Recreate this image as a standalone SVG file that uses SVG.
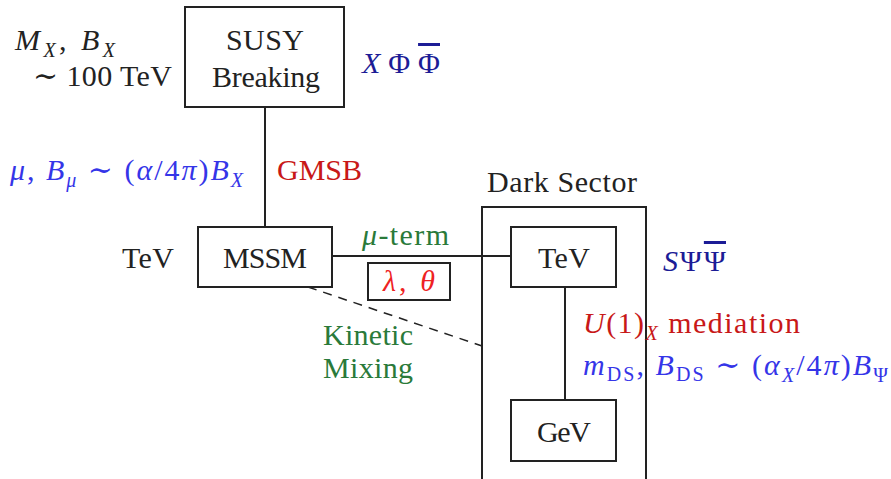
<svg xmlns="http://www.w3.org/2000/svg" width="891" height="479" viewBox="0 0 891 479">
<style>
text{font-family:"Liberation Serif","DejaVu Serif",serif;font-size:30px;fill:#222}
.box{fill:#fff;stroke:#222;stroke-width:2}
.ln{stroke:#222;stroke-width:2;fill:none}
.dash{stroke:#222;stroke-width:1.5;stroke-dasharray:9 7;fill:none}
.it{font-style:italic}
.sub{font-size:20px}
.blue{fill:#3535e8}
.navy{fill:#1c1c96}
.red{fill:#c81818}
.bred{fill:#ee2222}
.green{fill:#2a7a3a}
.mid{text-anchor:middle}
</style>
<g id="connectors">
<line class="ln" x1="265" y1="107" x2="265" y2="227"/>
<line class="ln" x1="332" y1="256" x2="511" y2="256"/>
<line class="ln" x1="565" y1="287" x2="565" y2="400"/>
<line class="dash" x1="308" y1="287" x2="482" y2="346"/>
</g>
<g id="dark-sector">
<rect x="482" y="207" width="164" height="290" style="fill:none;stroke:#222;stroke-width:2"/>
<text x="487" y="192" textLength="150">Dark Sector</text>
</g>
<g id="susy-breaking">
<rect class="box" x="185" y="7" width="159" height="100"/>
<text class="mid" x="265" y="50" textLength="78">SUSY</text>
<text class="mid" x="266" y="87" textLength="108">Breaking</text>
</g>
<g id="mssm">
<rect class="box" x="198" y="227" width="134" height="60"/>
<text class="mid" x="265" y="268" textLength="84">MSSM</text>
</g>
<g id="lambda-theta">
<rect class="box" x="368" y="263" width="82" height="37"/>
<text class="mid bred" x="409" y="291" textLength="52"><tspan class="it">λ</tspan>, <tspan class="it">θ</tspan></text>
</g>
<g id="dark-tev">
<rect class="box" x="511" y="227" width="105" height="60"/>
<text class="mid" x="564" y="268" textLength="52">TeV</text>
</g>
<g id="gev">
<rect class="box" x="511" y="400" width="105" height="61"/>
<text class="mid" x="564" y="442" textLength="54">GeV</text>
</g>
<g id="labels">
<text x="15" y="50" textLength="100"><tspan class="it">M</tspan><tspan class="sub it" dy="7">X</tspan><tspan dy="-7">, </tspan><tspan class="it">B</tspan><tspan class="sub it" dy="7">X</tspan></text>
<text x="33" y="86" textLength="139">∼ 100 TeV</text>
<text class="navy" x="362" y="73" textLength="78"><tspan class="it">X</tspan>Φ<tspan text-decoration="overline">Φ</tspan></text>
<text class="blue" x="10" y="180" textLength="233"><tspan class="it">μ</tspan>, <tspan class="it">B</tspan><tspan class="sub it" dy="7">μ</tspan><tspan dy="-7"> ∼ (</tspan><tspan class="it">α</tspan>/4<tspan class="it">π</tspan>)<tspan class="it">B</tspan><tspan class="sub it" dy="7">X</tspan></text>
<text class="red" x="277" y="180" textLength="85">GMSB</text>
<text x="122" y="268" textLength="52">TeV</text>
<text class="green" x="362" y="245" textLength="87"><tspan class="it">μ</tspan>-term</text>
<text class="navy" x="663" y="271" textLength="63"><tspan class="it">S</tspan>Ψ<tspan text-decoration="overline">Ψ</tspan></text>
<text class="red" x="583" y="333" textLength="217"><tspan class="it">U</tspan>(1)<tspan class="sub it" dy="7">X</tspan><tspan dy="-7"> mediation</tspan></text>
<text class="blue" x="583" y="375" textLength="305"><tspan class="it">m</tspan><tspan class="sub" dy="6">DS</tspan><tspan dy="-6">, </tspan><tspan class="it">B</tspan><tspan class="sub" dy="6">DS</tspan><tspan dy="-6"> ∼ (</tspan><tspan class="it">α</tspan><tspan class="sub it" dy="7">X</tspan><tspan dy="-7">/4</tspan><tspan class="it">π</tspan>)<tspan class="it">B</tspan><tspan class="sub" dy="7">Ψ</tspan></text>
<text class="green" x="323" y="345" textLength="90">Kinetic</text>
<text class="green" x="323" y="378" textLength="90">Mixing</text>
</g>
</svg>
